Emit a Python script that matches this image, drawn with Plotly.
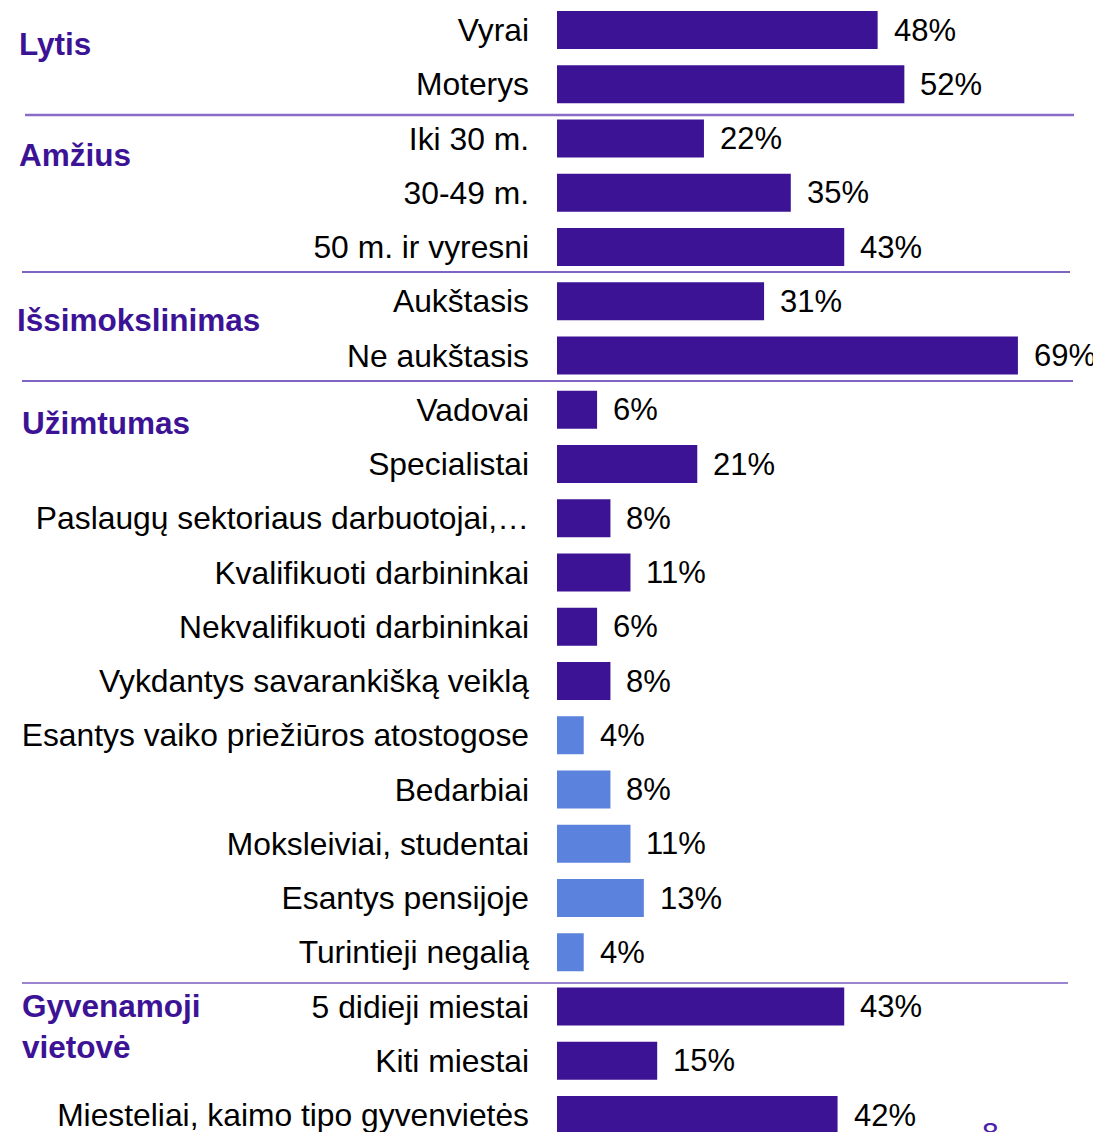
import plotly.graph_objects as go

categories = [
    "Vyrai", "Moterys",
    "Iki 30 m.", "30-49 m.", "50 m. ir vyresni",
    "Aukštasis", "Ne aukštasis",
    "Vadovai", "Specialistai", "Paslaugų sektoriaus darbuotojai,…",
    "Kvalifikuoti darbininkai", "Nekvalifikuoti darbininkai",
    "Vykdantys savarankišką veiklą", "Esantys vaiko priežiūros atostogose",
    "Bedarbiai", "Moksleiviai, studentai", "Esantys pensijoje", "Turintieji negalią",
    "5 didieji miestai", "Kiti miestai", "Miesteliai, kaimo tipo gyvenvietės",
]
values = [48, 52, 22, 35, 43, 31, 69, 6, 21, 8, 11, 6, 8, 4, 8, 11, 13, 4, 43, 15, 42]
highlight = [False] * 13 + [True] * 5 + [False] * 3

group_labels = ["Lytis", "Amžius", "Išsimokslinimas", "Užimtumas", "Gyvenamoji<br>vietovė"]
page_number = "8"

DARK = "#3D1396"
LIGHT = "#5B82DD"
FONT = "Liberation Sans, Arial, sans-serif"

OFF = 8                      # page body margin
W, H = 1101 - OFF, 1132 - OFF
L = 557 - OFF
PW = W - L
PITCH = 54.25
ROW0 = 30 - OFF              # pixel centre of first row inside figure


def px_x(px):
    return (px - OFF - L) / PW


def px_y(py):
    return (H - (py - OFF)) / H


colors = [LIGHT if h else DARK for h in highlight]
top_val = -ROW0 / PITCH
bot_val = top_val + H / PITCH

fig = go.Figure(go.Bar(
    x=values, y=categories, orientation="h",
    marker=dict(color=colors, line=dict(width=0)),
    width=0.7, hoverinfo="skip",
))

annotations = []
for c, v in zip(categories, values):
    annotations.append(dict(
        x=v, y=c, xref="x", yref="y", text=f"{v}%", showarrow=False,
        xanchor="left", yanchor="middle", xshift=14,
        font=dict(family=FONT, size=31, color="#000000"),
    ))

group_pos = [(17, 44), (17, 155), (15, 320), (20, 423), (20, 1026)]
for txt, (gx, gy) in zip(group_labels, group_pos):
    annotations.append(dict(
        x=px_x(gx), y=px_y(gy), xref="paper", yref="paper", text=f"<b>{txt}</b>",
        showarrow=False, xanchor="left", yanchor="middle", align="left",
        font=dict(family=FONT, size=31.5, color="#3D1396"),
    ))

annotations.append(dict(
    x=px_x(990), y=px_y(1114), xref="paper", yref="paper", text=page_number,
    showarrow=False, xanchor="center", yanchor="top",
    font=dict(family=FONT, size=30, color="#4B22A8"),
))

lines = [(25, 1074, 115, "#8A6BC8", 2.5), (22, 1070, 272, "#5530B0", 1.5),
         (22, 1073, 381, "#5530B0", 1.5), (22, 1068, 983, "#7A5CC0", 1.5)]
shapes = [dict(type="line", xref="paper", yref="paper", x0=px_x(a), x1=px_x(b),
               y0=px_y(y), y1=px_y(y), line=dict(color=col, width=w))
          for a, b, y, col, w in lines]

fig.update_layout(
    width=W, height=H,
    margin=dict(l=L, r=0, t=0, b=0, pad=0),
    paper_bgcolor="white", plot_bgcolor="white",
    showlegend=False, bargap=0.3,
    annotations=annotations, shapes=shapes,
    xaxis=dict(range=[0, PW / 6.68], visible=False, fixedrange=True),
    yaxis=dict(
        type="category", range=[bot_val, top_val],
        showgrid=False, zeroline=False, showline=False, ticks="",
        ticklabelstandoff=27,
        tickfont=dict(family=FONT, size=31.8, color="#000000"),
        fixedrange=True,
    ),
)

fig.write_html("out.html")
